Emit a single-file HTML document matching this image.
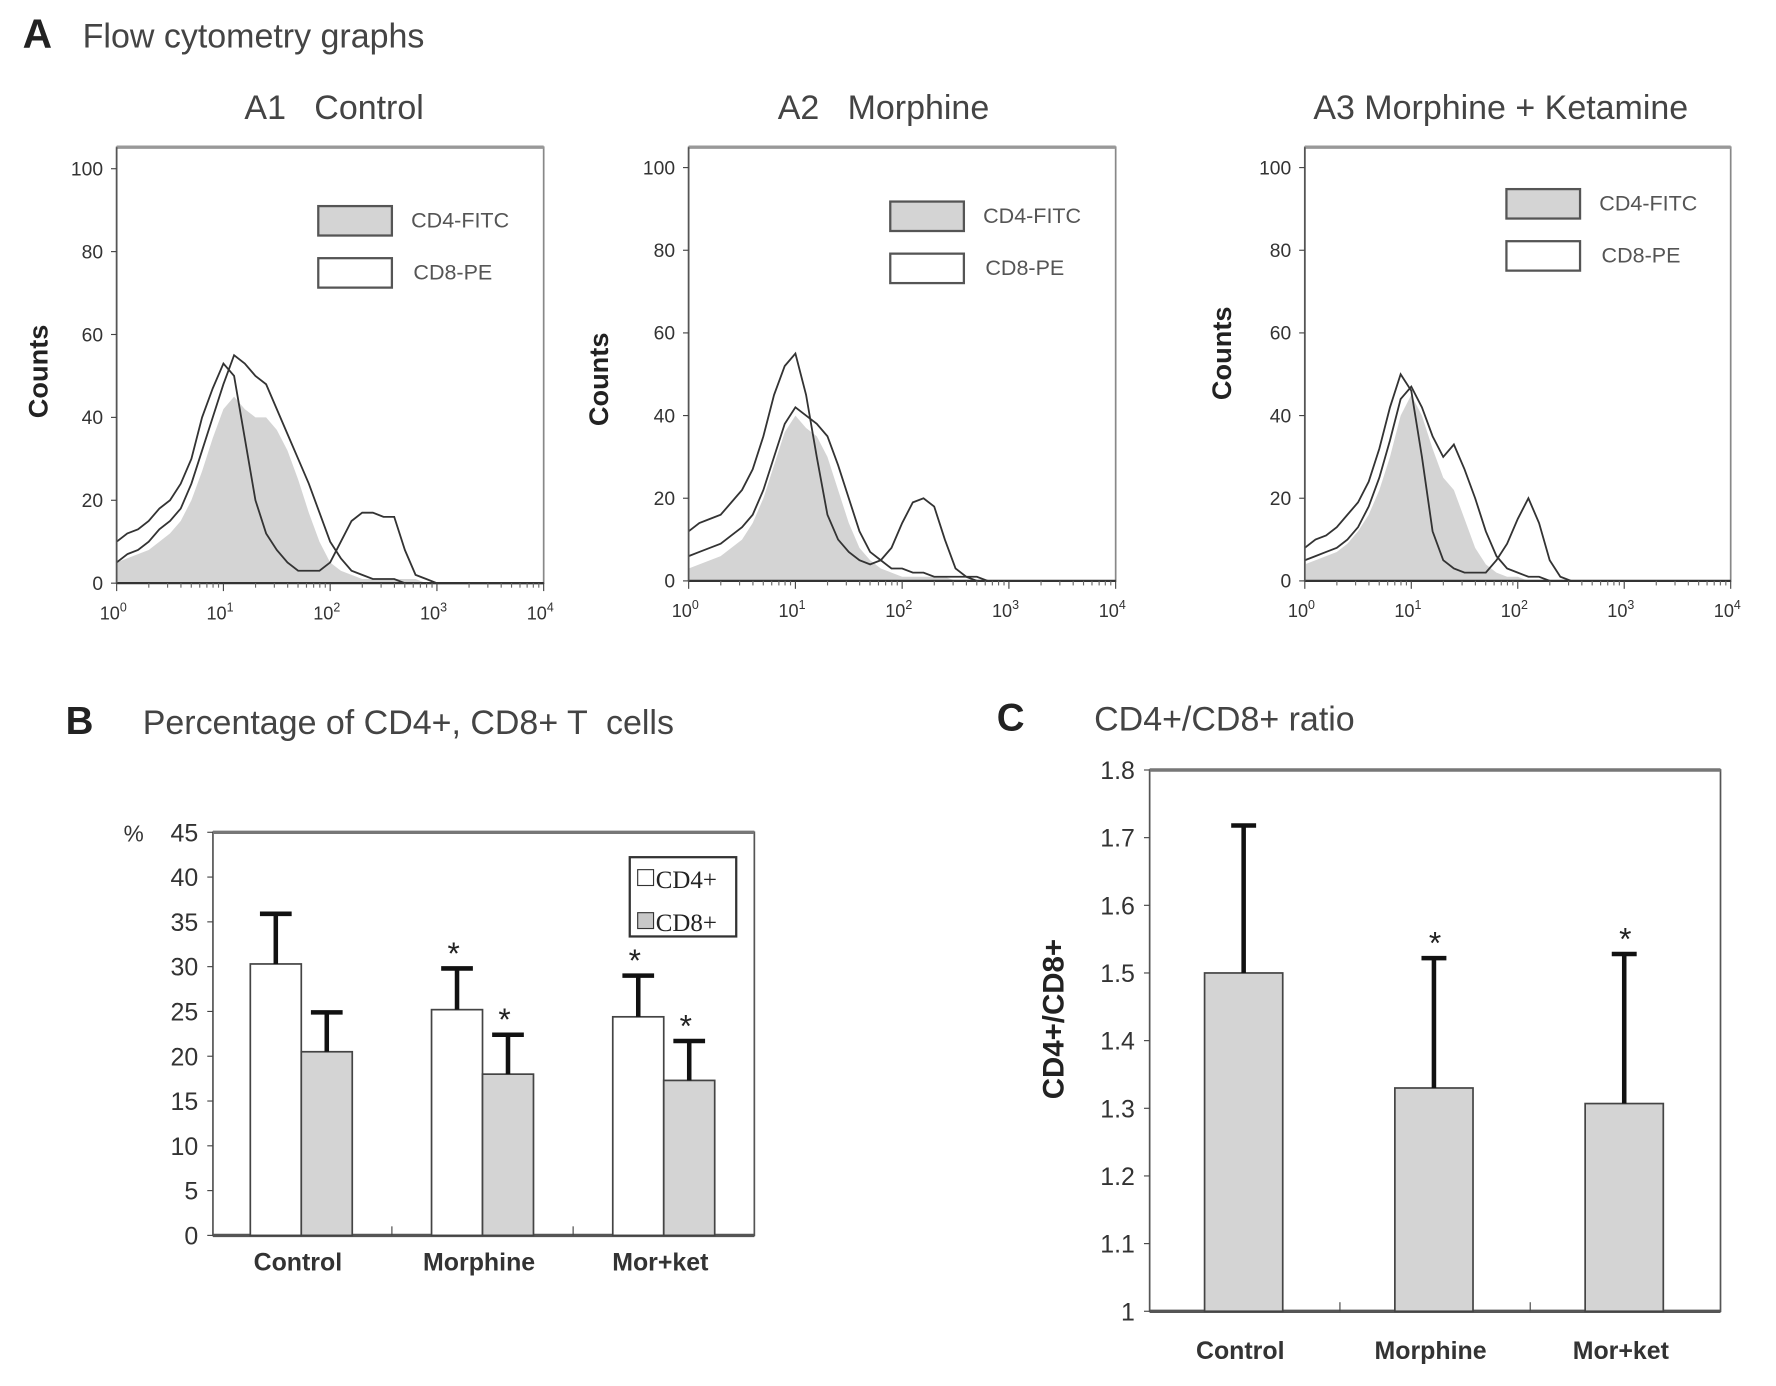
<!DOCTYPE html>
<html><head><meta charset="utf-8"><style>
html,body{margin:0;padding:0;background:#fff;}
svg{display:block;font-family:"Liberation Sans",sans-serif;}
text{white-space:pre;}
</style></head><body>
<svg id="fig" width="1776" height="1386" viewBox="0 0 1568 1224" preserveAspectRatio="none" xmlns="http://www.w3.org/2000/svg">
<text x="20" y="42" font-size="36" font-weight="bold" fill="#222">A</text>
<text x="73" y="42" font-size="30" fill="#444">Flow cytometry graphs</text>
<text x="58" y="648" font-size="34" font-weight="bold" fill="#222">B</text>
<text x="126" y="648" font-size="30" fill="#444">Percentage of CD4+, CD8+ T  cells</text>
<text x="880" y="645" font-size="34" font-weight="bold" fill="#222">C</text>
<text x="966" y="645" font-size="30" fill="#444">CD4+/CD8+ ratio</text>
</svg>
<script>
const NS="http://www.w3.org/2000/svg";
const svg=document.getElementById('fig');
function mk(tag,attrs,parent,txt){const e=document.createElementNS(NS,tag);for(const k in attrs)e.setAttribute(k,attrs[k]);if(txt!==undefined)e.textContent=txt;(parent||svg).appendChild(e);return e;}

// ---------- Histogram data (counts at log10 positions 0,0.1,...,3.0) ----------
const logSteps=[0,0.1,0.2,0.3,0.4,0.5,0.6,0.7,0.8,0.9,1.0,1.1,1.2,1.3,1.4,1.5,1.6,1.7,1.8,1.9,2.0,2.1,2.2,2.3,2.4,2.5,2.6,2.7,2.8,2.9,3.0];
const p1Fill=[5,6,7,8,10,12,15,20,27,35,42,45,42,40,40,37,32,25,17,10,5,3,2,1,1,1,1,1,1,0,0];
const p1CD4=[5,7,8,10,13,15,18,24,32,40,48,55,53,50,48,42,36,30,24,17,10,6,3,2,1,1,1,0,0,0,0];
const p1CD8=[10,12,13,15,18,20,24,30,40,47,53,50,35,20,12,8,5,3,3,3,5,10,15,17,17,16,16,8,2,1,0];
const p2Fill=[3,4,5,6,8,10,14,20,28,36,40,37,35,30,22,14,8,5,3,2,1,1,1,1,1,0,0,0,0,0,0];
const p2CD4=[6,7,8,9,11,13,16,22,30,38,42,40,38,35,28,20,12,7,5,3,3,2,2,1,1,1,1,0,0,0,0];
const p2CD8=[12,14,15,16,19,22,27,35,45,52,55,45,30,16,10,7,5,4,5,8,14,19,20,18,10,3,1,1,0,0,0];
const p3Fill=[4,5,6,7,9,12,16,22,30,40,45,40,32,25,22,15,8,4,2,1,1,0,0,0,0,0,0,0,0,0,0];
const p3CD4=[5,6,7,8,10,13,18,25,34,44,47,42,35,30,33,27,20,12,6,3,2,1,1,0,0,0,0,0,0,0,0];
const p3CD8=[8,10,11,13,16,19,24,32,42,50,46,30,12,5,3,2,2,2,5,9,15,20,14,5,1,0,0,0,0,0,0];
const yTicksHist=[0,20,40,60,80,100];
const decades=[0,1,2,3,4];

const panels=[
 {id:'a1',title:'A1   Control',tx:295,x0:103,x1:480,yTop:130,y0:515,y100:149,fill:p1Fill,cd4:p1CD4,cd8:p1CD8,cx:33,cy:328,leg:182},
 {id:'a2',title:'A2   Morphine',tx:780,x0:608,x1:985,yTop:130,y0:513,y100:148,fill:p2Fill,cd4:p2CD4,cd8:p2CD8,cx:528,cy:335,leg:178},
 {id:'a3',title:'A3 Morphine + Ketamine',tx:1325,x0:1152,x1:1528,yTop:130,y0:513,y100:148,fill:p3Fill,cd4:p3CD4,cd8:p3CD8,cx:1078,cy:312,leg:167}
];
panels.forEach(p=>{
  const g=mk('g',{});
  
  
  const t=mk('text',{x:p.tx,y:105,'font-size':30,fill:'#444','text-anchor':'middle'},g,p.title);
  
  
  const xs=v=>p.x0+(p.x1-p.x0)*v/4;
  const ys=v=>p.y0-(p.y0-p.y100)*v/100;
  const box=mk('rect',{x:p.x0,y:p.yTop,width:p.x1-p.x0,height:p.y0-p.yTop,fill:'none',stroke:'#888','stroke-width':1.5},g);
  
  
  mk('line',{x1:p.x0,y1:p.yTop,x2:p.x1,y2:p.yTop,stroke:'#999','stroke-width':3},g);
  let d='M'+xs(0)+','+ys(0);
  logSteps.forEach((l,i)=>{d+=' L'+xs(l)+','+ys(p.fill[i]);});
  d+=' L'+xs(4)+','+ys(0)+' Z';
  const fa=mk('path',{d:d,fill:'#d4d4d4',stroke:'none'},g);
  
  
  [['cd4','cd4-fitc-line'],['cd8','cd8-pe-line']].forEach(([k,n])=>{
    let dd='';
    logSteps.forEach((l,i)=>{dd+=(i?' L':'M')+xs(l)+','+ys(p[k][i]);});
    dd+=' L'+xs(4)+','+ys(0);
    const ln=mk('path',{d:dd,fill:'none',stroke:'#333','stroke-width':1.6},g);
    
    
  });
  mk('line',{x1:p.x0,y1:p.y0,x2:p.x1,y2:p.y0,stroke:'#333','stroke-width':2},g);
  mk('line',{x1:p.x0,y1:p.yTop,x2:p.x0,y2:p.y0,stroke:'#555','stroke-width':1.5},g);
  yTicksHist.forEach(v=>{
    mk('line',{x1:p.x0-5,y1:ys(v),x2:p.x0,y2:ys(v),stroke:'#444'},g);
    const tl=mk('text',{x:p.x0-12,y:ys(v)+6,'font-size':17,fill:'#333','text-anchor':'end'},g,v);
    
    
  });
  decades.forEach(v=>{
    mk('line',{x1:xs(v),y1:p.y0,x2:xs(v),y2:p.y0+7,stroke:'#444'},g);
    for(let m=2;m<10&&v<4;m++){const xx=xs(v+Math.log10(m));mk('line',{x1:xx,y1:p.y0,x2:xx,y2:p.y0+4,stroke:'#666'},g);}
    const tl=mk('text',{x:xs(v)-3,y:p.y0+32,'font-size':16,fill:'#333','text-anchor':'middle'},g);
    
    
    tl.appendChild(document.createTextNode('10'));
    mk('tspan',{dy:-7,'font-size':11},tl,String(v));
  });
  const cl=mk('text',{x:p.cx+9,y:p.cy,'font-size':24,'font-weight':'bold',fill:'#222','text-anchor':'middle',transform:`rotate(-90 ${p.cx+9} ${p.cy})`},g,'Counts');
  
  
  const lx=p.x0+178;
  const r1=mk('rect',{x:lx,y:p.leg,width:65,height:26,fill:'#d4d4d4',stroke:'#555','stroke-width':2},g);
  
  
  const l1=mk('text',{x:lx+82,y:p.leg+19,'font-size':19,fill:'#555'},g,'CD4-FITC');
  
  
  const r2=mk('rect',{x:lx,y:p.leg+46,width:65,height:26,fill:'#fff',stroke:'#555','stroke-width':2},g);
  
  
  const l2=mk('text',{x:lx+84,y:p.leg+65,'font-size':19,fill:'#555'},g,'CD8-PE');
  
  
});

// ---------- Chart B data ----------
const bCategories=['Control','Morphine','Mor+ket'];
const bCD4=[30.3,25.2,24.4];
const bCD4Err=[5.6,4.6,4.6];
const bCD8=[20.5,18.0,17.3];
const bCD8Err=[4.4,4.4,4.4];
const bCD4Star=[false,true,true];
const bCD8Star=[false,true,true];
const bTicks=[0,5,10,15,20,25,30,35,40,45];
(function(){
  const X0=188,X1=666,Y0=1091,YT=735,band=160,bandStart=186,bw=45;
  const ys=v=>Y0-(Y0-YT)*v/45;
  const g=mk('g',{});
  
  
  const fr=mk('rect',{x:X0,y:YT,width:X1-X0,height:Y0-YT,fill:'none',stroke:'#555','stroke-width':1.5},g);
  
  
  mk('line',{x1:X0,y1:YT,x2:X1,y2:YT,stroke:'#777','stroke-width':3},g);
  mk('line',{x1:X0,y1:Y0,x2:X1,y2:Y0,stroke:'#555','stroke-width':3},g);
  const pct=mk('text',{x:118,y:743,'font-size':20,fill:'#333','text-anchor':'middle'},g,'%');
  
  
  bTicks.forEach(v=>{
    mk('line',{x1:X0-5,y1:ys(v),x2:X0,y2:ys(v),stroke:'#444'},g);
    const t=mk('text',{x:175,y:ys(v)+8,'font-size':22,fill:'#333','text-anchor':'end'},g,v);
    
    
  });
  bCategories.forEach((c,i)=>{
    const cx=bandStart+band*i+band/2;
    if(i>0)mk('line',{x1:bandStart+band*i,y1:Y0,x2:bandStart+band*i,y2:Y0-8,stroke:'#444'},g);
    [[bCD4,bCD4Err,bCD4Star,'#fff',-1,'cd4'],[bCD8,bCD8Err,bCD8Star,'#d4d4d4',0,'cd8']].forEach(([vals,errs,stars,col,off,nm])=>{
      const bx=cx+off*bw;
      const r=mk('rect',{x:bx,y:ys(vals[i]),width:bw,height:Y0-ys(vals[i]),fill:col,stroke:'#444','stroke-width':1.5},g);
      
      
      const top=ys(vals[i]+errs[i]);
      const eb=mk('path',{d:`M${bx+bw/2},${ys(vals[i])} V${top} M${bx+bw/2-14},${top} H${bx+bw/2+14}`,stroke:'#111','stroke-width':4,fill:'none'},g);
      
      
      if(stars[i]){const s=mk('text',{x:bx+bw/2-3,y:top-4,'font-size':28,fill:'#222','text-anchor':'middle'},g,'*');
        
        }
    });
    const t=mk('text',{x:cx-3,y:1122,'font-size':22,'font-weight':'bold',fill:'#333','text-anchor':'middle'},g,c);
    
    
  });
  const lg=mk('g',{},g);
  
  
  mk('rect',{x:556,y:757,width:94,height:70,fill:'#fff',stroke:'#333','stroke-width':2},lg);
  mk('rect',{x:563,y:768,width:14,height:14,fill:'#fff',stroke:'#333'},lg);
  const e1=mk('text',{x:579,y:784,'font-size':22,fill:'#222','font-family':'Liberation Serif, serif'},lg,'CD4+');
  
  
  mk('rect',{x:563,y:806,width:14,height:14,fill:'#c8c8c8',stroke:'#333'},lg);
  const e2=mk('text',{x:579,y:822,'font-size':22,fill:'#222','font-family':'Liberation Serif, serif'},lg,'CD8+');
  
  
})();

// ---------- Chart C data ----------
const cCategories=['Control','Morphine','Mor+ket'];
const cRatio=[1.50,1.33,1.307];
const cErr=[0.218,0.192,0.221];
const cStar=[false,true,true];
const cTicks=[1,1.1,1.2,1.3,1.4,1.5,1.6,1.7,1.8];
(function(){
  const X0=1015,X1=1519,Y0=1158,YT=680,band=168,bw=69;
  const ys=v=>Y0-(Y0-YT)*(v-1)/0.8;
  const g=mk('g',{});
  
  
  const fr=mk('rect',{x:X0,y:YT,width:X1-X0,height:Y0-YT,fill:'none',stroke:'#555','stroke-width':1.5},g);
  
  
  mk('line',{x1:X0,y1:YT,x2:X1,y2:YT,stroke:'#777','stroke-width':3},g);
  mk('line',{x1:X0,y1:Y0,x2:X1,y2:Y0,stroke:'#555','stroke-width':3},g);
  cTicks.forEach(v=>{
    mk('line',{x1:X0-5,y1:ys(v),x2:X0,y2:ys(v),stroke:'#444'},g);
    const t=mk('text',{x:1002,y:ys(v)+8,'font-size':22,fill:'#333','text-anchor':'end'},g,(v===1?'1':v.toFixed(1)));
    
    
  });
  const yl=mk('text',{x:939,y:900,'font-size':26,'font-weight':'bold',fill:'#222','text-anchor':'middle',transform:'rotate(-90 939 900)'},g,'CD4+/CD8+');
  
  
  cCategories.forEach((c,i)=>{
    const cx=X0+band*i+band/2;
    if(i>0)mk('line',{x1:X0+band*i,y1:Y0,x2:X0+band*i,y2:Y0-8,stroke:'#444'},g);
    const r=mk('rect',{x:cx-bw/2-1,y:ys(cRatio[i]),width:bw,height:Y0-ys(cRatio[i]),fill:'#d4d4d4',stroke:'#444','stroke-width':1.5},g);
    
    
    const top=ys(cRatio[i]+cErr[i]);
    const eb=mk('path',{d:`M${cx-1},${ys(cRatio[i])} V${top} M${cx-12},${top} H${cx+10}`,stroke:'#111','stroke-width':4,fill:'none'},g);
    
    
    if(cStar[i]){const s=mk('text',{x:cx,y:top-4,'font-size':28,fill:'#222','text-anchor':'middle'},g,'*');
      
      }
    const t=mk('text',{x:cx-4,y:1200,'font-size':22,'font-weight':'bold',fill:'#333','text-anchor':'middle'},g,c);
    
    
  });
})();
</script>
</body></html>
